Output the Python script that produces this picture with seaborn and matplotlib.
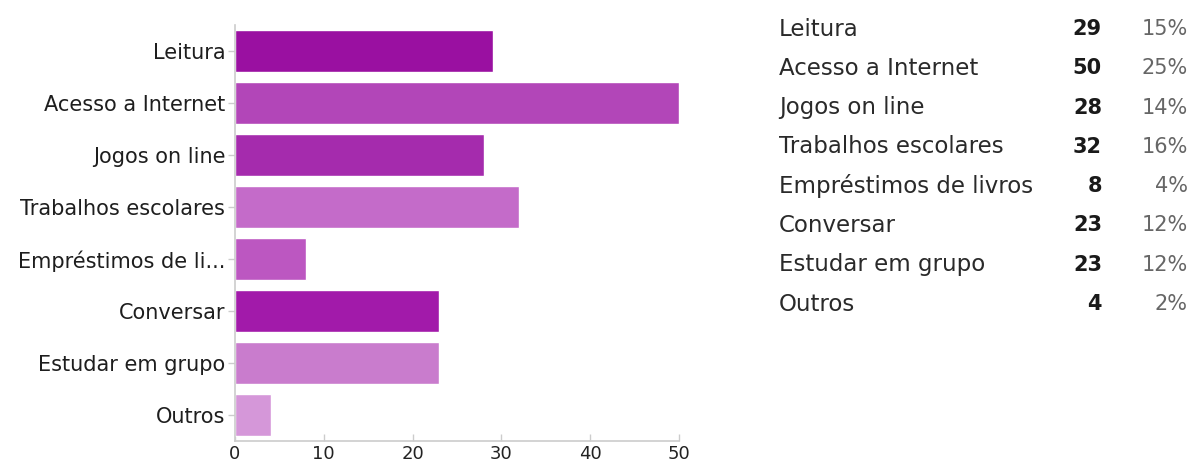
import matplotlib
matplotlib.use("Agg")
import matplotlib.pyplot as plt
import seaborn as sns
import pandas as pd

# Survey answers: what the library is used for
categories = [
    "Leitura",
    "Acesso a Internet",
    "Jogos on line",
    "Trabalhos escolares",
    "Empréstimos de livros",
    "Conversar",
    "Estudar em grupo",
    "Outros",
]
counts = [29, 50, 28, 32, 8, 23, 23, 4]
bar_colors = ["#9a10a1", "#b246b8", "#a52bad", "#c46bc9",
              "#bc57c1", "#a21aaa", "#c97ccd", "#d597d9"]
x_ticks = [0, 10, 20, 30, 40, 50]

total = sum(counts)
percents = [round(100 * c / total) for c in counts]


def short_label(text, limit=19, keep=17):
    return text if len(text) <= limit else text[:keep] + "..."


df = pd.DataFrame({"categoria": categories, "respostas": counts})

sns.set_theme(style="white")
plt.rcParams["font.family"] = ["DejaVu Sans"]

fig = plt.figure(figsize=(11.91, 4.66), dpi=100)
ax = fig.add_axes([235 / 1191, 1 - 441 / 466, 444 / 1191, 416 / 466])

sns.barplot(data=df, y="categoria", x="respostas", hue="categoria",
            palette=bar_colors, orient="h", width=0.8, legend=False,
            saturation=1, ax=ax)

ax.set_xlim(0, 50)
ax.set_ylim(len(categories) - 0.5, -0.5)
ax.set_xticks(x_ticks)
ax.set_xticklabels([str(t) for t in x_ticks], fontsize=13, color="#222222")
ax.set_yticks(range(len(categories)))
ax.set_yticklabels([short_label(c) for c in categories],
                   fontsize=15, color="#1e1e1e")
ax.set_xlabel("")
ax.set_ylabel("")

for side in ("top", "right"):
    ax.spines[side].set_visible(False)
for side in ("left", "bottom"):
    ax.spines[side].set_color("#cccccc")
    ax.spines[side].set_linewidth(1.2)

ax.tick_params(axis="y", length=5, width=1, color="#cccccc", pad=2, left=True)
ax.tick_params(axis="x", length=5, width=1, color="#cccccc", direction="in",
               pad=3, bottom=True)

# Summary table to the right of the chart
row_top = 29
row_step = 39.3
for i, (name, n, p) in enumerate(zip(categories, counts, percents)):
    y = 1 - (row_top + i * row_step) / 466
    fig.text(779 / 1191, y, name, fontsize=16.5, color="#2a2a2a",
             ha="left", va="center")
    fig.text(1102 / 1191, y, str(n), fontsize=15, color="#1a1a1a",
             fontweight="bold", ha="right", va="center")
    fig.text(1188 / 1191, y, f"{p}%", fontsize=15, color="#666666",
             ha="right", va="center")

fig.savefig("out.png", dpi=100, facecolor="white")
